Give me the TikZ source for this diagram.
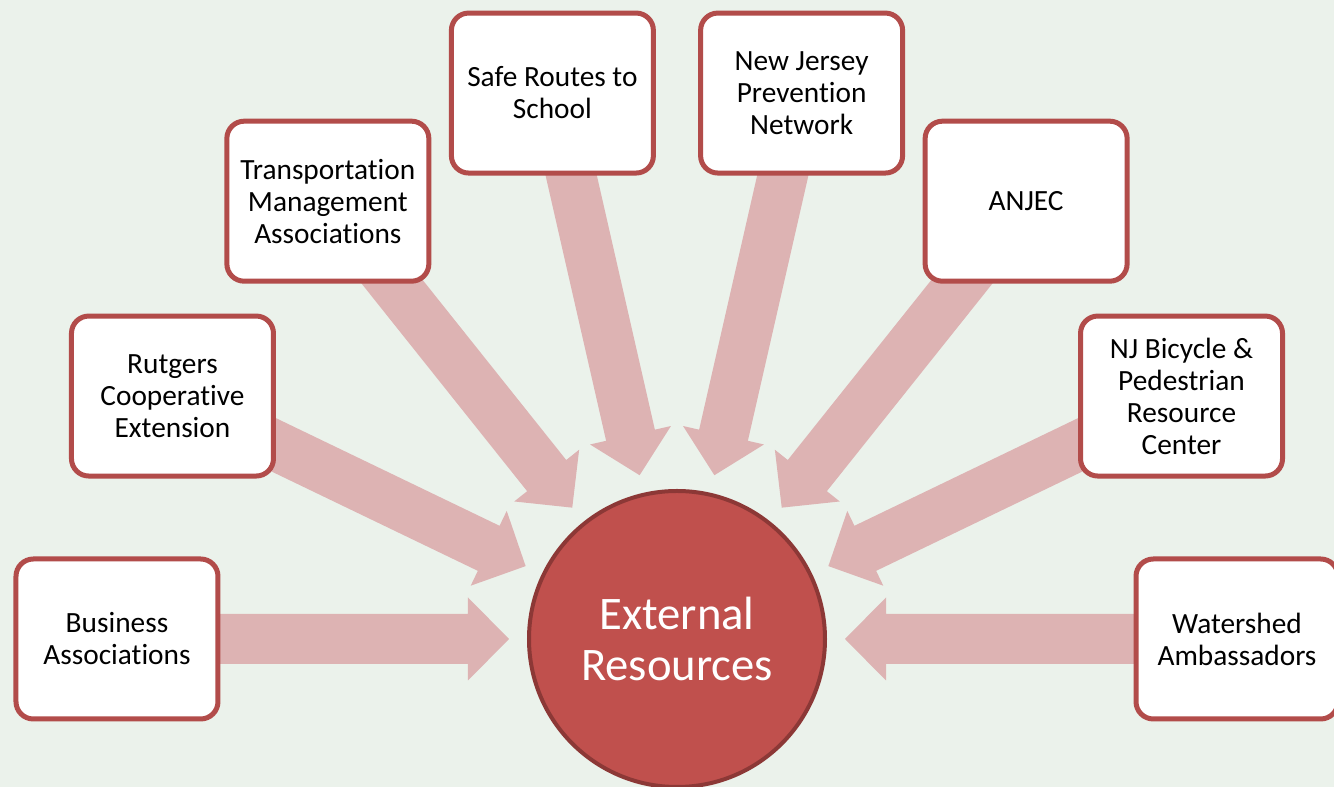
\documentclass[tikz,border=0pt]{standalone}
\usepackage{fontspec}
\setmainfont{Carlito}[Ligatures={NoCommon}]
\usetikzlibrary{calc}
\definecolor{bgc}{RGB}{235,242,235}
\definecolor{boxline}{RGB}{178,76,74}
\definecolor{circfill}{RGB}{192,80,77}
\definecolor{circline}{RGB}{140,56,54}
\definecolor{arrowc}{RGB}{221,179,179}
\pgfdeclarelayer{bg}
\pgfdeclarelayer{arrows}
\pgfsetlayers{bg,arrows,main}
\begin{document}
\begin{tikzpicture}[x=0.75pt,y=0.75pt,
  srcbox/.style={draw=boxline, line width=3.75pt, fill=white, rounded corners=13pt,
    minimum width=151.5pt, minimum height=120pt, align=center,
    font=\fontsize{22}{24}\selectfont, inner sep=2pt},
  hub/.style={circle, draw=circline, line width=3pt, fill=circfill, minimum size=222pt,
    inner sep=0pt, align=center, text=white, font=\fontsize{35}{38}\selectfont},
  blockarrow/.style={fill=arrowc}]
\useasboundingbox (-677,-148) rectangle (657,639);
\begin{pgfonlayer}{bg}
\fill[bgc] (-677,-148) rectangle (657,639);
\end{pgfonlayer}
\node[hub] (c) at (0,0) {External\\Resources};
\node[srcbox] (b1) at (180:560) {Business\\Associations};
\node[srcbox] (b2) at (154.2857:560) {Rutgers\\Cooperative\\Extension};
\node[srcbox] (b3) at (128.5714:560) {Transportation\\Management\\Associations};
\node[srcbox] (b4) at (102.8571:560) {Safe Routes to\\School};
\node[srcbox] (b5) at (77.1429:560) {New Jersey\\Prevention\\Network};
\node[srcbox] (b6) at (51.4286:560) {ANJEC};
\node[srcbox] (b7) at (25.7143:560) {NJ Bicycle \&\\Pedestrian\\Resource\\Center};
\node[srcbox] (b8) at (0:560) {Watershed\\Ambassadors};
\begin{pgfonlayer}{arrows}
\foreach \b in {b1,b2,b3,b4,b5,b6,b7,b8}
  \fill[blockarrow] let \p1=($(\b)-(c)$), \n1={atan2(\y1,\x1)} in
    [shift={(c)}, rotate=\n1] (168,0) -- (209,41.5) -- (209,25) -- (560,25)
    -- (560,-25) -- (209,-25) -- (209,-41.5) -- cycle;
\end{pgfonlayer}
\end{tikzpicture}
\end{document}
